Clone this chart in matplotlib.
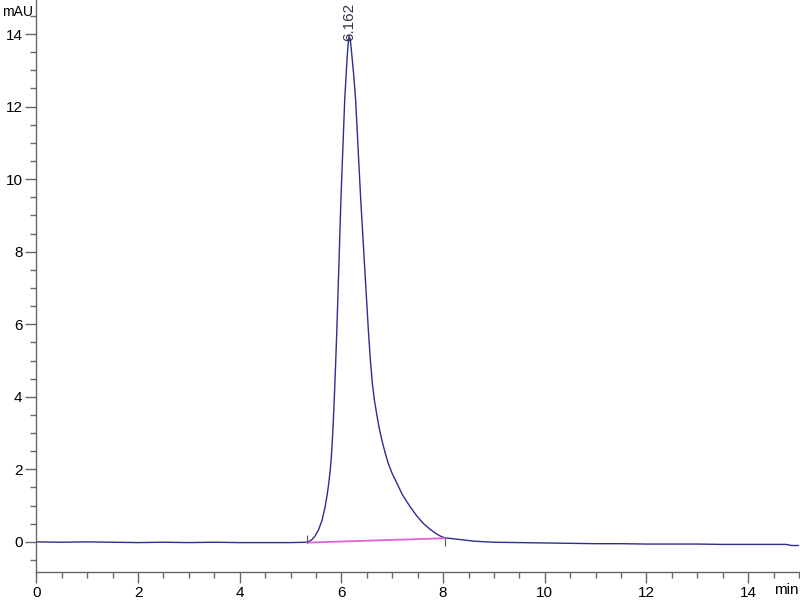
import matplotlib
matplotlib.use("Agg")
import matplotlib.pyplot as plt
from matplotlib.ticker import MultipleLocator
import matplotlib.transforms as mtransforms

# chromatogram trace (min, mAU)
time = [0.0, 0.5, 1.0, 1.5, 2.0, 2.5, 3.0, 3.5, 4.0, 4.5, 5.0, 5.32,
        5.37, 5.42, 5.48, 5.55, 5.62, 5.68, 5.72, 5.75, 5.78, 5.80, 5.82,
        5.84, 5.86, 5.885, 5.91, 5.95, 5.99, 6.03, 6.065, 6.11, 6.13, 6.15,
        6.175, 6.20, 6.24, 6.28, 6.33, 6.38, 6.45, 6.53, 6.57, 6.61, 6.65,
        6.694, 6.74, 6.79, 6.855, 6.92, 7.0, 7.09, 7.2, 7.35, 7.48, 7.61,
        7.74, 7.87, 7.96, 8.04,
        8.3, 8.6, 9.0, 9.5, 10.0, 10.5, 11.0, 11.5, 12.0, 12.5,
        13.0, 13.5, 14.0, 14.5, 14.75, 14.85, 15.0]
signal = [0.0, -0.01, 0.0, -0.01, -0.02, -0.01, -0.02, -0.01, -0.02, -0.02, -0.02, -0.01,
          0.02, 0.06, 0.16, 0.33, 0.60, 0.97, 1.30, 1.60, 1.98, 2.30, 2.75,
          3.30, 3.95, 4.85, 5.84, 7.6, 9.43, 10.9, 12.18, 13.3, 13.7, 13.94,
          13.85, 13.5, 12.9, 12.18, 10.8, 9.43, 7.75, 5.84, 5.00, 4.35, 3.90,
          3.52, 3.16, 2.84, 2.48, 2.17, 1.88, 1.62, 1.30, 0.97, 0.72, 0.51,
          0.35, 0.22, 0.15, 0.11,
          0.07, 0.02, -0.01, -0.02, -0.03, -0.04, -0.05, -0.05, -0.06, -0.06,
          -0.06, -0.07, -0.07, -0.07, -0.07, -0.1, -0.1]

peak_rt = 6.162
peak_height = 13.94
baseline_t = [5.32, 8.04]
baseline_y = [-0.02, 0.10]

lbl_font = ['Liberation Sans Narrow', 'Liberation Sans', 'DejaVu Sans']
plt.rcParams['font.family'] = lbl_font

fig = plt.figure(figsize=(8, 6), dpi=100)
ax = fig.add_axes([0.0454, 0.0467, 0.9534, 0.9533])

ax.plot(time, signal, color='#2e2e8c', lw=1.0)
ax.plot(baseline_t, baseline_y, color='#e060d8', lw=1.3)
# integration start/end marks
ax.vlines(baseline_t[0], baseline_y[0], baseline_y[0] + 0.2, color='#555555', lw=0.8)
ax.vlines(baseline_t[1], baseline_y[1] - 0.2, baseline_y[1], color='#555555', lw=0.8)

ax.text(peak_rt, peak_height - 0.12, f"{peak_rt:.3f}", rotation=90, ha='center', va='bottom',
        fontsize=11, color='#33334a', family=['Liberation Sans', 'DejaVu Sans'])

ax.set_xlim(0, 15)
ax.set_ylim(-0.83, 14.94)
ax.xaxis.set_major_locator(MultipleLocator(2))
ax.xaxis.set_minor_locator(MultipleLocator(0.5))
ax.yaxis.set_major_locator(MultipleLocator(2))
ax.yaxis.set_minor_locator(MultipleLocator(0.5))

for s in ['top', 'right']:
    ax.spines[s].set_visible(False)
for s in ['left', 'bottom']:
    ax.spines[s].set_color('#666666')
    ax.spines[s].set_linewidth(1.0)

ax.tick_params(which='major', length=8, width=1, color='#666666', labelsize=11, pad=2)
ax.tick_params(which='minor', length=4, width=1, color='#666666')

trans_y = mtransforms.blended_transform_factory(fig.transFigure, ax.transData)
ax.text(2 / 800, 14.62, "mAU", transform=trans_y, ha='left', va='center', fontsize=10)
trans_x = mtransforms.blended_transform_factory(ax.transData, ax.transAxes)
ax.text(14.75, -0.02, "min", transform=trans_x, ha='center', va='top', fontsize=11)

fig.savefig("out.png", dpi=100)
